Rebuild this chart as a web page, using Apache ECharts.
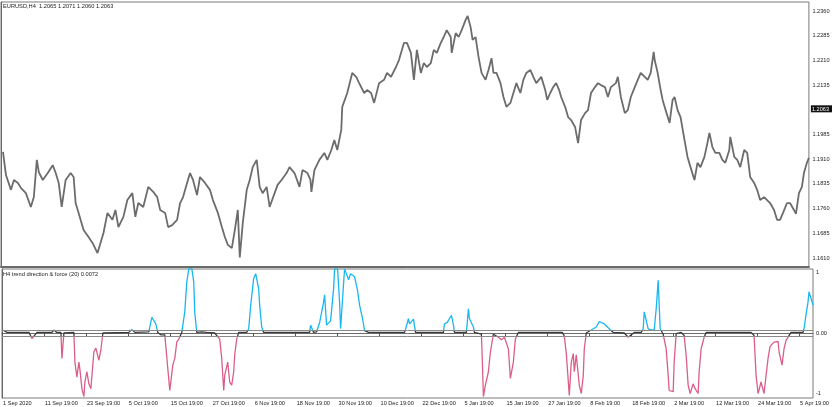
<!DOCTYPE html>
<html>
<head>
<meta charset="utf-8">
<script src="https://cdn.jsdelivr.net/npm/echarts@6/dist/echarts.min.js"></script>
<style>html,body{margin:0;padding:0;background:#fff}#c{width:835px;height:407px}</style>
</head>
<body>
<div id="c"></div>
<script>
// Bar index (H4 bars, one per pixel column) and EURUSD close estimates
const priceData = [
[2,1.1932],[5,1.1862],[10,1.1817],[13,1.1847],[17,1.1838],[20,1.1823],[25,1.1807],[30,1.1765],[33,1.1795],[36,1.1908],[38,1.1871],[42,1.1847],[47,1.1868],[52,1.1892],[55,1.1868],[58,1.1838],[61,1.1765],[65,1.1847],[70,1.1868],[73,1.1856],[75,1.1777],[78,1.1747],[83,1.1695],[88,1.1674],[92,1.1656],[97,1.1625],[100,1.1656],[103,1.1686],[107,1.1747],[112,1.1726],[115,1.1756],[118,1.1704],[123,1.1735],[127,1.1786],[132,1.1807],[135,1.1735],[138,1.1777],[143,1.1765],[148,1.1826],[153,1.1811],[157,1.1795],[160,1.1756],[165,1.1747],[168,1.1704],[172,1.1710],[177,1.1726],[180,1.1777],[183,1.1795],[187,1.1838],[190,1.1868],[193,1.1847],[197,1.1801],[200,1.1856],[205,1.1838],[210,1.1817],[213,1.1786],[218,1.1747],[222,1.1704],[225,1.1674],[228,1.1650],[232,1.1640],[235,1.1695],[238,1.1756],[240,1.1612],[243,1.1716],[247,1.1817],[250,1.1847],[253,1.1886],[257,1.1908],[260,1.1826],[263,1.1807],[267,1.1826],[270,1.1765],[275,1.1807],[278,1.1832],[282,1.1847],[287,1.1868],[290,1.1886],[295,1.1868],[300,1.1826],[303,1.1877],[308,1.1868],[311,1.1847],[312,1.1811],[315,1.1877],[320,1.1908],[325,1.1929],[328,1.1908],[332,1.1938],[335,1.1968],[338,1.1938],[342,1.1999],[343,1.2069],[348,1.2111],[353,1.2172],[357,1.2160],[360,1.2141],[365,1.2111],[368,1.2120],[372,1.2111],[375,1.2081],[380,1.2141],[385,1.2151],[388,1.2172],[392,1.2160],[397,1.2190],[400,1.2211],[405,1.2263],[408,1.2263],[412,1.2233],[415,1.2151],[418,1.2242],[422,1.2172],[425,1.2202],[428,1.2190],[432,1.2202],[435,1.2242],[438,1.2233],[442,1.2263],[445,1.2281],[448,1.2302],[452,1.2281],[453,1.2233],[457,1.2293],[460,1.2281],[463,1.2302],[467,1.2333],[469,1.2345],[472,1.2311],[474,1.2272],[477,1.2281],[480,1.2220],[483,1.2172],[487,1.2151],[490,1.2181],[493,1.2217],[495,1.2172],[498,1.2172],[502,1.2141],[505,1.2099],[508,1.2069],[512,1.2081],[515,1.2111],[518,1.2141],[522,1.2111],[525,1.2151],[528,1.2172],[532,1.2181],[535,1.2160],[538,1.2141],[543,1.2160],[547,1.2120],[549,1.2090],[552,1.2111],[555,1.2129],[558,1.2141],[561,1.2120],[563,1.2099],[567,1.2069],[570,1.2038],[573,1.2029],[577,1.2008],[580,1.1959],[583,1.2029],[587,1.2050],[590,1.2059],[593,1.2111],[597,1.2129],[600,1.2141],[603,1.2135],[607,1.2129],[610,1.2099],[613,1.2129],[618,1.2141],[620,1.2160],[623,1.2099],[627,1.2050],[630,1.2059],[633,1.2099],[637,1.2129],[640,1.2151],[643,1.2172],[647,1.2160],[650,1.2151],[653,1.2172],[656,1.2236],[657,1.2211],[660,1.2172],[663,1.2120],[665,1.2090],[668,1.2059],[672,1.2020],[675,1.2090],[677,1.2099],[680,1.2059],[683,1.2038],[687,1.1968],[690,1.1917],[693,1.1886],[697,1.1847],[700,1.1899],[703,1.1886],[707,1.1917],[710,1.1959],[712,1.1990],[715,1.1947],[718,1.1929],[722,1.1929],[725,1.1908],[728,1.1899],[732,1.1938],[733,1.1978],[737,1.1917],[740,1.1908],[743,1.1886],[747,1.1938],[750,1.1929],[753,1.1856],[757,1.1838],[760,1.1817],[763,1.1786],[767,1.1795],[770,1.1786],[773,1.1777],[777,1.1756],[780,1.1726],[783,1.1726],[786,1.1747],[790,1.1777],[793,1.1777],[797,1.1756],[799,1.1744],[802,1.1807],[805,1.1826],[807,1.1868],[810,1.1899],[812,1.1914]
];
// Indicator "trend direction & force (20)" values
const trendData = [
[1,0.05],[5,0.01],[27,0.01],[30,-0.09],[32,-0.05],[35,0.01],[50,0.01],[52,0.05],[55,0.01],[59,0.01],[60,-0.42],[62,0.0],[72,0.01],
[73,-0.48],[75,-0.73],[77,-0.48],[78,-0.6],[80,-0.92],[82,-1.05],[83,-0.81],[85,-0.64],[87,-0.84],[89,-0.92],[92,-0.31],[94,-0.25],[97,-0.45],[99,-0.28],[101,0.0],
[103,0.01],[127,0.01],[130,0.06],[133,0.01],[147,0.02],[150,0.26],[152,0.28],[154,0.15],[156,0.01],[159,-0.03],[163,-0.03],[165,-0.05],
[168,-0.95],[171,-0.53],[173,-0.42],[175,-0.15],[177,-0.1],[180,0.01],[182,0.02],[183,0.35],[185,0.84],[187,1.06],[190,1.07],[192,0.84],[193,0.34],[195,0.01],
[200,0.02],[202,0.05],[205,0.01],[213,0.0],[218,-0.1],[220,-0.42],[222,-0.95],[223,-0.7],[226,-0.48],[228,-0.81],[230,-0.86],[232,-0.64],[233,-0.36],[235,-0.1],[237,0.01],
[245,0.01],[247,0.07],[249,0.46],[252,0.9],[254,0.98],[257,0.73],[258,0.46],[260,0.1],[262,0.01],
[308,0.01],[309,0.13],[312,0.01],[315,0.02],[318,0.17],[322,0.51],[323,0.63],[325,0.13],[327,0.1],[329,0.2],[332,0.73],[333,1.06],[336,1.06],[338,0.51],[339,0.07],[341,0.57],[343,1.06],[345,1.04],[347,0.88],[349,0.98],[353,0.93],[356,0.7],[358,0.46],[361,0.24],[363,0.04],[367,0.01],
[403,0.01],[404,0.06],[407,0.24],[408,0.15],[410,0.13],[412,0.23],[414,0.01],
[442,0.01],[443,0.15],[446,0.18],[448,0.24],[450,0.29],[452,0.13],[453,0.01],
[465,0.01],[467,0.4],[468,0.24],[470,0.27],[472,0.1],[473,0.01],[480,-0.02],
[481,-0.5],[482,-1.05],[484,-0.86],[487,-0.64],[489,-0.31],[492,-0.02],[494,0.0],[497,-0.07],[500,-0.11],[503,-0.07],[507,-0.26],[509,-0.75],[512,-0.48],[514,-0.1],[517,0.01],
[561,0.01],[563,-0.05],[565,-0.34],[567,-0.36],[568,-1.03],[570,-0.48],[572,-0.34],[573,-0.64],[575,-0.36],[577,-0.34],[578,-0.86],[580,-1.0],[582,-0.7],[583,-0.26],[585,0.0],
[587,0.02],[590,0.05],[595,0.1],[598,0.19],[600,0.22],[603,0.15],[605,0.13],[608,0.07],[612,0.01],[623,0.0],[627,-0.07],[629,-0.05],[633,0.01],[640,0.01],
[642,0.07],[643,0.35],[645,0.36],[647,0.07],[650,0.05],[653,0.05],[655,0.4],[657,0.87],[658,0.84],[659,0.07],[662,-0.02],
[663,-0.1],[665,-0.26],[667,-0.7],[668,-0.95],[672,-0.97],[673,-0.48],[675,-0.01],[677,0.02],[680,0.01],[683,-0.04],[685,-0.37],[687,-0.86],[689,-1.0],[692,-0.84],[694,-0.92],[697,-1.0],[698,-0.64],[700,-0.26],[703,-0.07],[705,0.01],
[750,0.01],[753,-0.04],[755,-0.7],[757,-1.0],[758,-1.03],[760,-0.81],[762,-0.81],[763,-1.0],[765,-0.7],[767,-0.42],[769,-0.22],[773,-0.15],[777,-0.14],[778,-0.31],[781,-0.53],[783,-0.26],[785,-0.12],[787,-0.1],[790,0.01],
[802,0.01],[803,0.07],[805,0.3],[807,0.51],[808,0.68],[810,0.66],[812,0.46]
];
const levels = [0.05, -0.05];
const priceTicks = [1.2360, 1.2285, 1.2210, 1.2135, 1.1985, 1.1910, 1.1835, 1.1760, 1.1685, 1.1610];
const currentPrice = 1.2063;
const trendTicks = [1, 0, -1];
const trendTickLabels = {'1': '1', '0': '0.00', '-1': '-1'};
const dateTicks = [0, 42, 84, 126, 168, 210, 252, 294, 336, 378, 420, 462, 504, 546, 588, 630, 672, 714, 756, 798];
const dateLabels = ['1 Sep 2020','11 Sep 19:00','23 Sep 19:00','5 Oct 19:00','15 Oct 19:00','27 Oct 19:00','6 Nov 19:00','18 Nov 19:00','30 Nov 19:00','10 Dec 19:00','22 Dec 19:00','5 Jan 19:00','15 Jan 19:00','27 Jan 19:00','8 Feb 19:00','18 Feb 19:00','2 Mar 19:00','12 Mar 19:00','24 Mar 19:00','5 Apr 19:00'];
const mainTitle = 'EURUSD,H4  1.2065 1.2071 1.2060 1.2063';
const subTitle = 'H4 trend direction & force (20) 0.0072';

const FONT = 'Liberation Sans';
const priceLabelValues = priceTicks.concat([currentPrice]);
const chart = echarts.init(document.getElementById('c'), null, {renderer: 'canvas'});
chart.setOption({
  animation: false,
  backgroundColor: '#fff',
  textStyle: {fontFamily: FONT},
  title: [
    {text: mainTitle, left: 3, top: 3, padding: 0, textStyle: {fontSize: 5.7, fontWeight: 'normal', color: '#222', fontFamily: FONT}},
    {text: subTitle, left: 3, top: 271, padding: 0, textStyle: {fontSize: 5.7, fontWeight: 'normal', color: '#222', fontFamily: FONT}}
  ],
  grid: [
    {left: 1, top: 2, width: 812, height: 265, show: true, borderColor: '#7a7a7a', borderWidth: 1},
    {left: 1, top: 269, width: 812, height: 129, show: true, borderColor: '#7a7a7a', borderWidth: 1}
  ],
  xAxis: [
    {type: 'value', gridIndex: 0, min: 0, max: 812, axisLine: {show: true, lineStyle: {color: '#6a6a6a', width: 2}}, axisTick: {show: false}, axisLabel: {show: false}, splitLine: {show: false}},
    {type: 'value', gridIndex: 1, min: 0, max: 812,
      axisLine: {show: true, lineStyle: {color: '#6a6a6a', width: 1}},
      axisTick: {show: true, length: 3, customValues: dateTicks, lineStyle: {color: '#555'}},
      axisLabel: {show: true, customValues: dateTicks, fontSize: 5.6, color: '#222', align: 'left', margin: 2, padding: [0, 0, 0, 1],
        formatter: function (v) { const i = dateTicks.indexOf(Math.round(v)); return i >= 0 ? dateLabels[i] : ''; }},
      splitLine: {show: false}}
  ],
  yAxis: [
    {type: 'value', gridIndex: 0, position: 'right', min: 1.15828, max: 1.23873,
      axisLine: {show: true, lineStyle: {color: '#6a6a6a'}},
      axisTick: {show: false},
      axisLabel: {show: true, customValues: priceLabelValues, fontSize: 5.6, color: '#222', margin: 2,
        formatter: v => Math.abs(v - currentPrice) < 1e-6 ? '{cur|' + v.toFixed(4) + '}' : ' ' + v.toFixed(4),
        rich: {cur: {backgroundColor: '#111', color: '#fff', fontSize: 5.6, padding: [1, 3, 0, 1], fontFamily: FONT}}},
      splitLine: {show: false}},
    {type: 'value', gridIndex: 1, position: 'right', min: -1.074, max: 1.058,
      axisLine: {show: true, lineStyle: {color: '#6a6a6a'}},
      axisTick: {show: false},
      axisLabel: {show: true, customValues: trendTicks, fontSize: 5.6, color: '#222', margin: 3, formatter: v => trendTickLabels[String(Math.round(v))]},
      splitLine: {show: false}}
  ],
  visualMap: {
    type: 'piecewise', show: false, seriesIndex: 1, dimension: 1,
    pieces: [
      {gt: 0.05, color: '#19b6f0'},
      {lt: -0.05, color: '#da5d8b'},
      {gte: -0.05, lte: 0.05, color: '#3a3a3a'}
    ]
  },
  series: [
    {type: 'line', xAxisIndex: 0, yAxisIndex: 0, data: priceData, showSymbol: false, lineStyle: {color: '#6c6c6c', width: 1.8}, silent: true},
    {type: 'line', xAxisIndex: 1, yAxisIndex: 1, data: trendData, showSymbol: false, lineStyle: {width: 1.3}, silent: true, clip: true,
      markLine: {symbol: 'none', silent: true, label: {show: false}, lineStyle: {color: '#8a8a8a', width: 1, type: 'solid'},
        data: levels.map(l => ({yAxis: l}))}}
  ]
});
</script>
</body>
</html>
